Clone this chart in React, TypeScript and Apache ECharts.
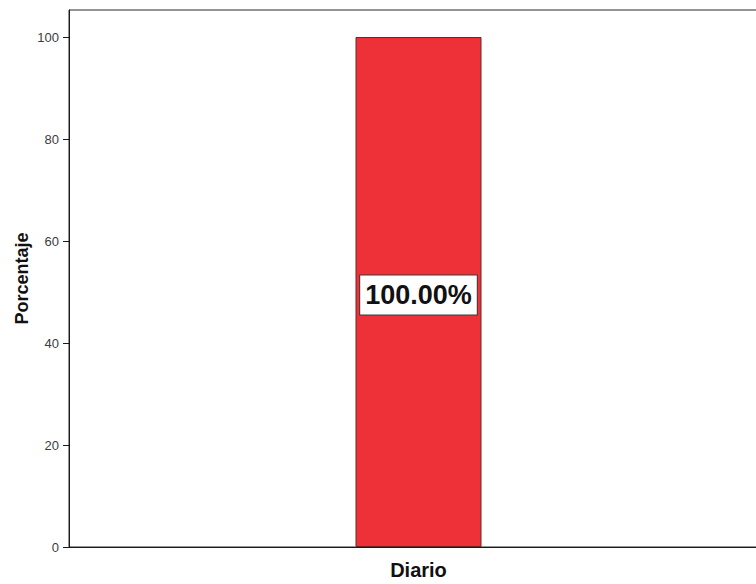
import React, { useEffect, useRef } from "react";
import * as echarts from "echarts";

const categories: string[] = ["Diario"];
const percentages: number[] = [100];
const yTicks: number[] = [0, 20, 40, 60, 80, 100];

const FONT = "Liberation Sans, Arial, sans-serif";

export default function App() {
  const ref = useRef<HTMLDivElement>(null);

  useEffect(() => {
    if (!ref.current) return;
    const chart = echarts.init(ref.current, undefined, { renderer: "svg" });
    chart.setOption({
      animation: false,
      backgroundColor: "#ffffff",
      grid: {
        left: 69,
        right: 12,
        top: 10,
        bottom: 37,
        show: true,
        borderColor: "#2b2b2b",
        borderWidth: 1,
      },
      xAxis: {
        type: "category",
        data: categories,
        axisLine: { lineStyle: { color: "#1a1a1a", width: 1 } },
        axisTick: { alignWithLabel: true, length: 6, lineStyle: { color: "#1a1a1a" } },
        axisLabel: {
          color: "#111111",
          fontFamily: FONT,
          fontWeight: "bold",
          fontSize: 20,
          margin: 13,
        },
      },
      yAxis: {
        type: "value",
        min: yTicks[0],
        max: 105.3,
        interval: yTicks[1] - yTicks[0],
        name: "Porcentaje",
        nameLocation: "middle",
        nameGap: 38,
        nameMoveOverlap: false,
        nameRotate: 90,
        nameTextStyle: {
          color: "#111111",
          fontFamily: FONT,
          fontWeight: "bold",
          fontSize: 18,
        },
        axisLine: { show: true, lineStyle: { color: "#1a1a1a", width: 1 } },
        axisTick: { show: true, length: 6, lineStyle: { color: "#1a1a1a" } },
        axisLabel: {
          color: "#3c3c3c",
          fontFamily: FONT,
          fontSize: 13,
          margin: 10,
          showMaxLabel: false,
          formatter: (v: number) => (yTicks.includes(v) ? String(v) : ""),
        },
        splitLine: { show: false },
      },
      series: [
        {
          type: "bar",
          data: percentages,
          barWidth: 126,
          itemStyle: {
            color: "#ee3038",
            borderColor: "#6a2626",
            borderWidth: 1,
          },
          label: {
            show: true,
            position: "inside",
            offset: [0, 3],
            formatter: (p: any) => `${Number(p.value).toFixed(2)}%`,
            color: "#111111",
            fontFamily: FONT,
            fontWeight: "bold",
            fontSize: 27,
            backgroundColor: "#ffffff",
            borderColor: "#3a3a3a",
            borderWidth: 1,
            padding: [7, 5, 5, 5],
          },
        },
      ],
    });
    return () => chart.dispose();
  }, []);

  return (
    <div
      style={{
        position: "absolute",
        left: 0,
        top: 0,
        width: 756,
        height: 584,
        overflow: "hidden",
        background: "#ffffff",
      }}
    >
      <div ref={ref} style={{ width: 780, height: 584 }} />
    </div>
  );
}
